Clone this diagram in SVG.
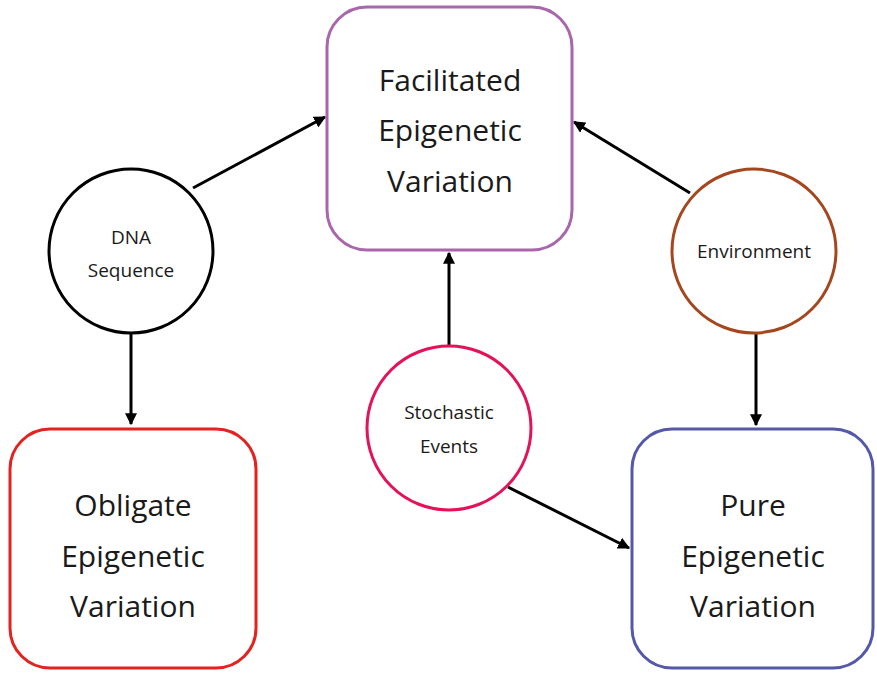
<svg xmlns="http://www.w3.org/2000/svg" width="877" height="676" viewBox="0 0 877 676">
<style>
.box{fill:#fff;stroke-width:3}
.circ{fill:#fff;stroke-width:3}
.big{font-family:"Open Sans","Liberation Sans",sans-serif;font-size:30px;fill:#1a1a1a;text-anchor:middle}
.small{font-family:"Open Sans","Liberation Sans",sans-serif;font-size:19px;fill:#1a1a1a;text-anchor:middle}
.conn{stroke:#000;stroke-width:3;fill:none;marker-end:url(#ah)}
</style>
<defs>
<marker id="ah" viewBox="0 0 10 10" refX="9" refY="5" markerWidth="4" markerHeight="4" orient="auto" markerUnits="strokeWidth">
<path d="M0,0 L10,5 L0,10 z" fill="#000"/>
</marker>
</defs>
<rect width="877" height="676" fill="#fff"/>
<g id="connectors">
<line class="conn" x1="193" y1="188" x2="325" y2="117"/>
<line class="conn" x1="690" y1="193" x2="574" y2="122"/>
<line class="conn" x1="449" y1="347" x2="449" y2="253"/>
<line class="conn" x1="131" y1="334" x2="131" y2="424"/>
<line class="conn" x1="756" y1="334" x2="756" y2="425"/>
<line class="conn" x1="508" y1="487" x2="629" y2="548"/>
</g>
<g id="facilitated">
<rect class="box" x="327" y="7" width="245" height="243" rx="40" stroke="#a866ab"/>
<text class="big" x="450" y="91">Facilitated</text>
<text class="big" x="450" y="141">Epigenetic</text>
<text class="big" x="450" y="192">Variation</text>
</g>
<g id="obligate">
<rect class="box" x="10" y="429" width="246" height="239" rx="40" stroke="#e2231f"/>
<text class="big" x="133" y="516">Obligate</text>
<text class="big" x="133" y="567">Epigenetic</text>
<text class="big" x="133" y="617">Variation</text>
</g>
<g id="pure">
<rect class="box" x="632" y="429" width="241" height="239" rx="40" stroke="#5558a8"/>
<text class="big" x="753" y="516">Pure</text>
<text class="big" x="753" y="567">Epigenetic</text>
<text class="big" x="753" y="617">Variation</text>
</g>
<g id="dna">
<circle class="circ" cx="131" cy="251" r="82" stroke="#000"/>
<text class="small" x="131" y="244">DNA</text>
<text class="small" x="131" y="277">Sequence</text>
</g>
<g id="environment">
<circle class="circ" cx="754" cy="251" r="82" stroke="#a4461e"/>
<text class="small" x="754" y="258">Environment</text>
</g>
<g id="stochastic">
<circle class="circ" cx="449" cy="428" r="82" stroke="#e3125a"/>
<text class="small" x="449" y="419">Stochastic</text>
<text class="small" x="449" y="453">Events</text>
</g>
</svg>
